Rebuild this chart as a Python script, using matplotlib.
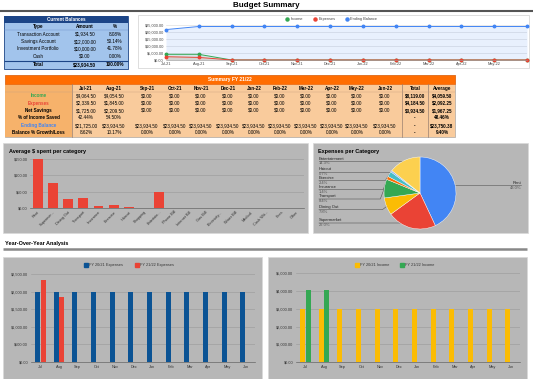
import matplotlib
matplotlib.use("Agg")
import matplotlib.pyplot as plt
from matplotlib.patches import Rectangle
from matplotlib.ticker import FuncFormatter
import numpy as np

plt.rcParams['font.family'] = ['Liberation Sans', 'DejaVu Sans']

W, H = 533, 379

# ---- data ----
bal_types = ['Transaction Account', 'Savings Account', 'Investment Portfolio', 'Cash']
bal_amounts = [1934.50, 12000.00, 10000.00, 0.00]
bal_pct = [8.08, 50.14, 41.78, 0.00]
bal_total = 23934.50

months = ['Jul-21', 'Aug-21', 'Sep-21', 'Oct-21', 'Nov-21', 'Dec-21',
          'Jan-22', 'Feb-22', 'Mar-22', 'Apr-22', 'May-22', 'Jun-22']
month_short = ['Jul', 'Aug', 'Sep', 'Oct', 'Nov', 'Dec',
               'Jan', 'Feb', 'Mar', 'Apr', 'May', 'Jun']
income = [4064.50, 4054.50, 0, 0, 0, 0, 0, 0, 0, 0, 0, 0]
expenses = [2339.50, 1845.00, 0, 0, 0, 0, 0, 0, 0, 0, 0, 0]
net_savings = [1725.00, 2209.50, 0, 0, 0, 0, 0, 0, 0, 0, 0, 0]
pct_saved = [42.44, 54.50, None, None, None, None, None, None, None, None, None, None]
ending_balance = [21725.00, 23934.50, 23934.50, 23934.50, 23934.50, 23934.50,
                  23934.50, 23934.50, 23934.50, 23934.50, 23934.50, 23934.50]
growth = [8.62, 10.17, 0, 0, 0, 0, 0, 0, 0, 0, 0, 0]
total_col = ['$8,119.00', '$4,184.50', '$3,934.50', '-', '-', '-']
avg_col = ['$4,059.50', '$2,092.25', '$1,967.25', '48.46%', '$23,750.38', '9.40%']

categories = ['Rent', 'Supermar...', 'Dining Out', 'Transport', 'Insurance', 'Exercise',
              'Haircut', 'Shopping', 'Entertain...', 'Phone Bill', 'Internet Bill',
              'Gas Bill', 'Electricity...', 'Water Bill', 'Medical', 'Cash Wit...',
              'Fees', 'Other']
avg_spent = [149.9, 76.7, 27.2, 29.3, 4.9, 8.4, 2.4, 0, 49.9, 0, 0, 0, 0, 0, 0, 0, 0, 0]

pie_labels = ['Rent', 'Supermarket', 'Dining Out', 'Transport', 'Insurance',
              'Exercise', 'Haircut', 'Entertainment']
pie_pct = [43.0, 22.0, 7.8, 8.4, 1.4, 2.4, 0.7, 14.3]
pie_colors = ['#4285f4', '#ea4335', '#fbbc04', '#34a853', '#ff6d01',
              '#46bdc6', '#7baaf7', '#fcd04f']

prev_expenses = [2000, 2000, 2000, 2000, 2000, 2000, 2000, 2000, 2000, 2000, 2000, 2000]
prev_income = [3000, 3000, 3000, 3000, 3000, 3000, 3000, 3000, 3000, 3000, 3000, 3000]

GREEN, RED, BLUE = '#34a853', '#ea4335', '#4285f4'
NAVY, GOLD = '#0b5394', '#fbbc04'
GRAYBG = '#b7b7b7'

fig = plt.figure(figsize=(W / 100, H / 100), dpi=100)

# overlay in pixel coords (y down)
ov = fig.add_axes([0, 0, 1, 1])
ov.set_xlim(0, W)
ov.set_ylim(H, 0)
ov.axis('off')


def box(x0, y0, x1, y1, fc, ec='none', lw=0):
    ov.add_patch(Rectangle((x0, y0), x1 - x0, y1 - y0, fc=fc, ec=ec, lw=lw))


def txt(x, y, s, size=3.3, **kw):
    ov.text(x, y, s, fontsize=size, va='center', **kw)


def hline(y, x0, x1, c, lw):
    ov.plot([x0, x1], [y, y], color=c, lw=lw, solid_capstyle='butt')


def px_axes(x0, y0, x1, y1):
    return fig.add_axes([x0 / W, 1 - y1 / H, (x1 - x0) / W, (y1 - y0) / H])


def money(v):
    return f'${v:,.2f}'


# title
txt(266, 5.5, 'Budget Summary', size=5.8, weight='bold', ha='center')
hline(10.5, 0, W, '#555555', 1.5)

# ---- current balances ----
box(4, 16, 128, 69, '#a2c4ec', '#1c4587', 0.6)
box(4, 16, 128, 23, '#1c4587')
txt(66, 19.5, 'Current Balances', color='white', weight='bold', ha='center')
bcols = [38, 85, 115]
for x, s in zip(bcols, ['Type', 'Amount', '%']):
    txt(x, 26.5, s, weight='bold', ha='center')
hline(30, 4, 128, '#6d8fc7', 0.3)
for i, (t, a, p) in enumerate(zip(bal_types, bal_amounts, bal_pct)):
    y = 34 + i * 7.5
    txt(bcols[0], y, t, ha='center')
    txt(bcols[1], y, money(a), ha='center')
    txt(bcols[2], y, f'{p:.2f}%', ha='center')
hline(60.8, 4, 128, '#1c4587', 0.8)
txt(bcols[0], 64.8, 'Total', weight='bold', ha='center')
txt(bcols[1], 64.8, money(bal_total), weight='bold', ha='center')
txt(bcols[2], 64.8, f'{sum(bal_pct):.2f}%', weight='bold', ha='center')

# ---- line chart ----
box(138, 15, 529, 68, 'white', '#d0d0d0', 0.5)
lax = px_axes(166, 25, 527, 60)
x = np.arange(len(months))
for ser, c in [(ending_balance, BLUE), (income, GREEN), (expenses, RED)]:
    lax.fill_between(x, ser, color=c, alpha=0.12, lw=0)
    lax.plot(x, ser, color=c, lw=0.7, marker='o', ms=1.8, clip_on=False)
lax.set_xlim(0, 11)
lax.set_ylim(0, 25000)
lax.set_yticks(range(0, 25001, 5000))
lax.yaxis.set_major_formatter(FuncFormatter(lambda v, _: money(v)))
lax.set_xticks(x[:-1])
lax.set_xticklabels(months[:-1])
lax.grid(axis='y', color='#d8d8d8', lw=0.4)
lax.set_axisbelow(True)
lax.set_facecolor('none')
for s in lax.spines.values():
    s.set_visible(False)
lax.spines['bottom'].set_visible(True)
lax.spines['bottom'].set_color('#999999')
lax.spines['bottom'].set_linewidth(0.4)
lax.tick_params(length=0, labelsize=2.8, labelcolor='#444444', pad=1.5)
for lx, name, c in [(287, 'Income', GREEN), (315, 'Expenses', RED), (347, 'Ending Balance', BLUE)]:
    ov.plot(lx, 19, 'o', color=c, ms=2.2)
    txt(lx + 3.5, 19, name, size=2.8, color='#444444')

# ---- summary table ----
box(5, 75, 455, 137, '#f9cb9c', '#999999', 0.4)
box(5, 84, 72, 137, '#f6b26b')
box(5, 75, 455, 84, '#ff6d01', '#e65c00', 0.4)
txt(230, 79.5, 'Summary FY 21/22', color='white', weight='bold', ha='center', size=3.5)
ccols = [86, 114, 147, 175, 201, 228, 254, 280, 306, 332, 357, 385, 415, 442]
for cx, s in zip(ccols, months + ['Total', 'Average']):
    txt(cx, 88.3, s, weight='bold', ha='center')
for vx in [72, 402, 428]:
    ov.plot([vx, vx], [84, 137], color='#9a8070', lw=0.5)
hline(91.7, 5, 455, '#c9a080', 0.3)

row_labels = ['Income', 'Expenses', 'Net Savings', '% of Income Saved',
              'Ending Balance', 'Balance % Growth/Loss']
row_colors = [GREEN, RED, 'black', 'black', BLUE, 'black']
rows = [
    [money(v) for v in income],
    [money(v) for v in expenses],
    [money(v) for v in net_savings],
    ['' if v is None else f'{v:.2f}%' for v in pct_saved],
    [money(v) for v in ending_balance],
    [f'{v:.2f}%' for v in growth],
]
for i, (lab, c, vals) in enumerate(zip(row_labels, row_colors, rows)):
    y = 95.7 + i * 7.4
    txt(38.5, y, lab, color=c, weight='bold', ha='center')
    for cx, s in zip(ccols[:12], vals):
        txt(cx, y, s, ha='center')
    txt(ccols[12], y, total_col[i], weight='bold', ha='center')
    txt(ccols[13], y, avg_col[i], weight='bold', ha='center')

# ---- average spent bar chart ----
box(3, 143, 308, 233, GRAYBG, '#d9d9d9', 0.5)
txt(9, 151, 'Average $ spent per category', size=4, weight='bold')
bax = px_axes(30, 159, 304, 208)
cx = np.arange(len(categories))
bax.bar(cx, avg_spent, width=0.65, color=RED, zorder=3)
bax.set_xlim(-0.5, len(categories) - 0.5)
bax.set_ylim(0, 150)
bax.set_yticks([0, 50, 100, 150])
bax.yaxis.set_major_formatter(FuncFormatter(lambda v, _: money(v)))
bax.set_xticks(cx)
bax.set_xticklabels(categories, rotation=45, ha='right', rotation_mode='anchor')
bax.grid(axis='y', color='#999999', lw=0.4)
bax.set_axisbelow(True)
bax.set_facecolor('none')
for s in bax.spines.values():
    s.set_visible(False)
bax.spines['bottom'].set_visible(True)
bax.spines['bottom'].set_color('#666666')
bax.spines['bottom'].set_linewidth(0.5)
bax.tick_params(length=0, labelsize=2.8, labelcolor='#333333', pad=1.5)

# ---- pie ----
box(313, 143, 528, 233, GRAYBG, '#d9d9d9', 0.5)
txt(318, 151, 'Expenses per Category', size=4, weight='bold')
pcx, pcy, pr = 420, 193, 36
pax = px_axes(pcx - pr, pcy - pr, pcx + pr, pcy + pr)
pax.pie(pie_pct, colors=pie_colors, startangle=90, counterclock=False,
        wedgeprops=dict(lw=0.3, ec='white'))
pax.set_xlim(-1, 1)
pax.set_ylim(-1, 1)

# label positions (name y) on the left side, Rent on the right
label_y = {'Entertainment': 158.5, 'Haircut': 169, 'Exercise': 178, 'Insurance': 187,
           'Transport': 196.5, 'Dining Out': 207, 'Supermarket': 220.5}
cum = 0
for name, p in zip(pie_labels, pie_pct):
    mid = np.deg2rad(90 - (cum + p / 2) / 100 * 360)
    cum += p
    ex, ey = pcx + pr * np.cos(mid), pcy - pr * np.sin(mid)
    if name == 'Rent':
        ov.plot([ex, 521], [ey, ey], color='#555555', lw=0.4)
        txt(521, ey - 2.5, name, size=3, color='#222222', ha='right')
        txt(521, ey + 3, f'{p:.1f}%', size=3, color='#555555', ha='right')
        continue
    ny = label_y[name]
    ly = ny + 2.5
    knee = ex - 4 if abs(ey - ly) > 2 else ex
    ov.plot([319, knee, ex], [ly, ly, ey], color='#555555', lw=0.4)
    txt(319, ny, name, size=3, color='#222222')
    txt(319, ny + 5, f'{p:.1f}%', size=3, color='#555555')

# ---- year over year ----
txt(5, 244, 'Year-Over-Year Analysis', size=4, weight='bold')
hline(248.5, 3, 527, '#888888', 1.8)


def yoy(x0, x1, y_top, ymax, step, prev, cur, c_prev, c_cur, names, legx):
    box(x0, 257, x1, 382, GRAYBG, '#d9d9d9', 0.5)
    ax = px_axes(x0 + 28, y_top, x1 - 7, 362)
    mx = np.arange(12)
    ax.bar(mx - 0.15, prev, width=0.28, color=c_prev, zorder=3)
    ax.bar(mx + 0.15, cur, width=0.28, color=c_cur, zorder=3)
    ax.set_xlim(-0.5, 11.5)
    ax.set_ylim(0, ymax)
    ax.set_yticks(np.arange(0, ymax + 1, step))
    ax.yaxis.set_major_formatter(FuncFormatter(lambda v, _: money(v)))
    ax.set_xticks(mx)
    ax.set_xticklabels(month_short)
    ax.grid(axis='y', color='#999999', lw=0.4)
    ax.set_axisbelow(True)
    ax.set_facecolor('none')
    for s in ax.spines.values():
        s.set_visible(False)
    ax.spines['bottom'].set_visible(True)
    ax.spines['bottom'].set_color('#666666')
    ax.spines['bottom'].set_linewidth(0.5)
    ax.tick_params(length=0, labelsize=2.8, labelcolor='#333333', pad=2)
    for lx, n, c in zip(legx, names, [c_prev, c_cur]):
        ov.plot(lx, 265, 's', color=c, ms=2.2)
        txt(lx + 3, 265, n, size=2.8, color='#333333')


yoy(3, 262, 274.2, 2500, 500, prev_expenses, expenses, NAVY, RED,
    ['FY 20/21 Expenses', 'FY 21/22 Expenses'], [86, 137])
yoy(268, 527, 273.3, 5000, 1000, prev_income, income, GOLD, GREEN,
    ['FY 20/21 Income', 'FY 21/22 Income'], [357, 402])

fig.savefig('out.png', dpi=100)
